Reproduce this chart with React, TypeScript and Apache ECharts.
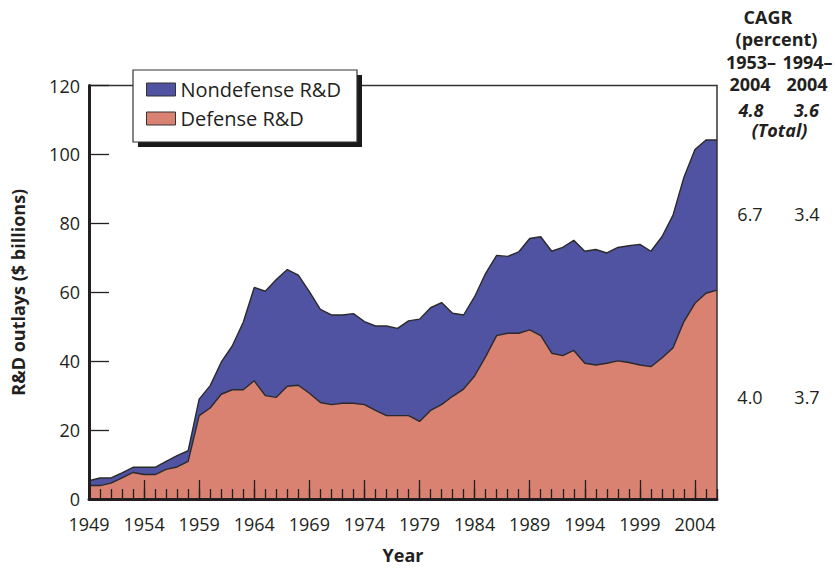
import React, { useEffect, useRef } from 'react';
import * as echarts from 'echarts';

const years = [
  '1949', '1950', '1951', '1952', '1953', '1954', '1955', '1956', '1957', '1958',
  '1959', '1960', '1961', '1962', '1963', '1964', '1965', '1966', '1967', '1968',
  '1969', '1970', '1971', '1972', '1973', '1974', '1975', '1976', '1977', '1978',
  '1979', '1980', '1981', '1982', '1983', '1984', '1985', '1986', '1987', '1988',
  '1989', '1990', '1991', '1992', '1993', '1994', '1995', '1996', '1997', '1998',
  '1999', '2000', '2001', '2002', '2003', '2004', '2005', '2006',
];

const defense = [
  3.9, 3.9, 4.6, 6.1, 7.7, 7.1, 7.1, 8.6, 9.3, 10.9,
  24.2, 26.4, 30.4, 31.7, 31.7, 34.3, 30.0, 29.5, 32.7, 33.0,
  30.7, 28.0, 27.4, 27.8, 27.8, 27.4, 25.7, 24.2, 24.2, 24.2,
  22.5, 25.7, 27.4, 29.8, 31.9, 35.7, 41.3, 47.4, 48.1, 48.1,
  49.1, 47.4, 42.3, 41.6, 43.1, 39.4, 38.9, 39.4, 40.1, 39.6,
  38.9, 38.4, 40.9, 43.8, 51.5, 56.8, 59.7, 60.6,
];

const nondefense = [
  1.4, 2.2, 1.5, 1.5, 1.5, 2.1, 2.1, 2.3, 3.3, 3.1,
  4.8, 6.5, 9.3, 12.7, 19.6, 27.1, 30.3, 34.2, 33.9, 32.0,
  29.5, 27.0, 26.0, 25.6, 26.0, 24.1, 24.5, 26.0, 25.3, 27.5,
  29.7, 29.8, 29.6, 24.1, 21.5, 23.0, 24.2, 23.3, 22.3, 23.6,
  26.5, 28.7, 29.6, 31.4, 32.0, 32.5, 33.5, 32.0, 32.9, 33.9,
  35.0, 33.5, 35.2, 38.5, 41.9, 44.6, 44.5, 43.6,
];

const seriesNames = ['Nondefense R&D', 'Defense R&D'];
const cagrHeader = ['CAGR', '(percent)'];
const cagrPeriodStart = ['1953–', '1994–'];
const cagrPeriodEnd = ['2004', '2004'];
const cagrTotal = ['4.8', '3.6'];
const cagrTotalLabel = '(Total)';
const cagrNondefense = ['6.7', '3.4'];
const cagrDefense = ['4.0', '3.7'];

const FONT = "'Open Sans', 'Noto Sans', sans-serif";
const INK = '#231f20';
const NON = '#5052a2';
const DEF = '#d98272';
const EDGE = '#2a2a2a';

function txt(text: string, x: number, y: number, weight: string, style = 'normal', size = 18) {
  return {
    type: 'text',
    x,
    y,
    z: 12,
    style: {
      text,
      fill: INK,
      font: `${style} ${weight} ${size}px ${FONT}`,
      align: 'center',
      verticalAlign: 'middle',
      textAlign: 'center',
      textVerticalAlign: 'middle',
    },
  };
}

export default function App() {
  const ref = useRef<HTMLDivElement>(null);

  useEffect(() => {
    if (!ref.current) return;
    const chart = echarts.init(ref.current, undefined, { renderer: 'svg' });
    const col1 = 750;
    const col2 = 807;
    const option: any = {
      animation: false,
      textStyle: { fontFamily: FONT, color: INK },
      grid: {
        left: 89,
        right: 118,
        top: 85.5,
        bottom: 69,
        show: true,
        borderColor: '#333',
        borderWidth: 1.5,
        backgroundColor: 'transparent',
        containLabel: false,
        outerBoundsMode: 'none',
        z: 3,
      },
      legend: {
        show: true,
        orient: 'vertical',
        left: 146,
        top: 79.5,
        padding: 0,
        itemWidth: 29,
        itemHeight: 13,
        itemGap: 9,
        icon: 'rect',
        selectedMode: false,
        z: 10,
        data: [
          { name: seriesNames[0], itemStyle: { color: NON, borderColor: '#333', borderWidth: 1 } },
          { name: seriesNames[1], itemStyle: { color: DEF, borderColor: '#333', borderWidth: 1 } },
        ],
        textStyle: { fontSize: 20, lineHeight: 20, color: INK, fontFamily: FONT },
      },
      xAxis: [
        {
          type: 'category',
          data: years,
          boundaryGap: false,
          position: 'bottom',
          z: 5,
          axisLine: { show: true, lineStyle: { color: INK, width: 3 } },
          axisTick: { show: true, inside: true, length: 10, interval: 0, lineStyle: { color: INK, width: 1.3 } },
          axisLabel: { show: false },
          splitLine: { show: false },
        },
        {
          type: 'category',
          data: years,
          boundaryGap: false,
          position: 'bottom',
          z: 5,
          axisLine: { show: false },
          axisTick: { show: true, inside: true, length: 19, interval: 4, lineStyle: { color: INK, width: 1.3 } },
          axisLabel: { show: true, interval: 4, fontSize: 18, color: INK, margin: 16, fontFamily: FONT },
          splitLine: { show: false },
          name: 'Year',
          nameLocation: 'middle',
          nameGap: 47,
          nameTextStyle: { fontSize: 18, lineHeight: 18, fontWeight: 'bold', color: INK, fontFamily: FONT },
        },
      ],
      yAxis: {
        type: 'value',
        min: 0,
        max: 120,
        interval: 20,
        z: 5,
        axisLine: { show: true, lineStyle: { color: INK, width: 3 } },
        axisTick: { show: true, inside: true, length: 20, lineStyle: { color: INK, width: 1.3 } },
        axisLabel: { fontSize: 18, color: INK, margin: 9, fontFamily: FONT },
        splitLine: { show: false },
        name: 'R&D outlays ($ billions)',
        nameLocation: 'middle',
        nameGap: 62,
        nameTextStyle: { fontSize: 18, fontWeight: 'bold', color: INK, fontFamily: FONT },
      },
      series: [
        {
          type: 'line',
          name: seriesNames[1],
          data: defense,
          stack: 'total',
          xAxisIndex: 0,
          showSymbol: false,
          symbol: 'none',
          z: 2,
          lineStyle: { color: EDGE, width: 1.4 },
          itemStyle: { color: DEF },
          areaStyle: { color: DEF, opacity: 1 },
        },
        {
          type: 'line',
          name: seriesNames[0],
          data: nondefense,
          stack: 'total',
          xAxisIndex: 0,
          showSymbol: false,
          symbol: 'none',
          z: 2,
          lineStyle: { color: EDGE, width: 1.4 },
          itemStyle: { color: NON },
          areaStyle: { color: NON, opacity: 1 },
        },
      ],
      graphic: [
        { type: 'rect', z: 8, shape: { x: 138, y: 75, width: 224, height: 72 }, style: { fill: '#1a1a1a' } },
        { type: 'rect', z: 9, shape: { x: 133, y: 70, width: 224, height: 72 }, style: { fill: '#fff', stroke: '#333', lineWidth: 1.2 } },
        txt(cagrHeader[0], 768, 16.5, 'bold'),
        txt(cagrHeader[1], 776.5, 39, 'bold'),
        txt(cagrPeriodStart[0], 751, 61.5, 'bold'),
        txt(cagrPeriodStart[1], 807.5, 61.5, 'bold'),
        txt(cagrPeriodEnd[0], col1, 83.5, 'bold'),
        txt(cagrPeriodEnd[1], col2, 83.5, 'bold'),
        txt(cagrTotal[0], 751, 110, 'bold', 'italic'),
        txt(cagrTotal[1], 806.5, 110, 'bold', 'italic'),
        txt(cagrTotalLabel, 779.5, 130, 'bold', 'italic'),
        txt(cagrNondefense[0], col1, 214, 'normal'),
        txt(cagrNondefense[1], col2, 214, 'normal'),
        txt(cagrDefense[0], col1, 397, 'normal'),
        txt(cagrDefense[1], col2, 397, 'normal'),
      ],
    };
    chart.setOption(option);
    return () => chart.dispose();
  }, []);

  return (
    <div
      ref={ref}
      style={{ position: 'absolute', left: 0, top: 0, width: 835, height: 568, background: '#fff' }}
    />
  );
}
